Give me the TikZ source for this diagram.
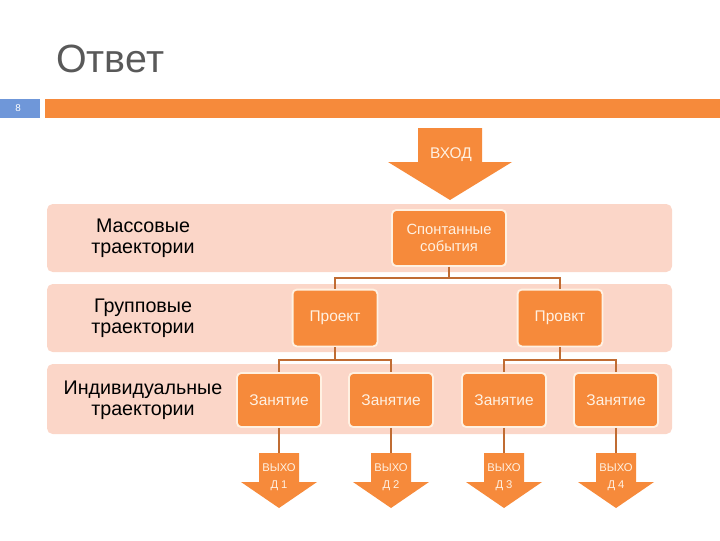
\documentclass[tikz,border=0pt]{standalone}
\usepackage{fontspec}
\setmainfont{Liberation Sans}
\definecolor{boxorange}{HTML}{F68A3B}
\definecolor{bandpink}{HTML}{FBD6C8}
\definecolor{boxrim}{HTML}{FFF1E2}
\definecolor{linebrown}{HTML}{C06C33}
\definecolor{slideblue}{HTML}{6F97D9}
\definecolor{titlegray}{HTML}{595959}
\begin{document}
\begin{tikzpicture}[x=0.025cm, y=-0.025cm]
  \tikzstyle{band}=[fill=bandpink, rounded corners=4pt]
  \tikzstyle{rowlbl}=[align=center, font=\fontsize{14}{15}\selectfont, text=black]
  \tikzstyle{box}=[fill=boxorange, draw=boxrim, line width=1.3pt, rounded corners=3pt,
    text=boxrim, align=center, font=\fontsize{11}{12}\selectfont]
  \tikzstyle{conn}=[draw=linebrown, line width=1.4pt]
  \tikzstyle{arrtext}=[text=boxrim, align=center, inner sep=0pt, font=\fontsize{8}{12.5}\selectfont]
  \useasboundingbox (0,0) rectangle (720,540);
  % header
  \node[anchor=base west, inner sep=0pt, text=titlegray, font=\fontsize{28}{30}\selectfont] (title) at (56,72) {Ответ};
  \fill[slideblue] (0,99) rectangle (40,118);
  \fill[boxorange] (45,99) rectangle (720,118);
  \node[text=white, font=\fontsize{7}{8}\selectfont] (pagenum) at (18,108.5) {8};
  % rows
  \fill[band] (47,204) rectangle (672,272);
  \fill[band] (47,284) rectangle (672,352);
  \fill[band] (47,364) rectangle (672,434);
  \node[rowlbl] (mass)  at (143,238) {Массовые\\траектории};
  \node[rowlbl] (group) at (143,318) {Групповые\\траектории};
  \node[rowlbl] (indiv) at (143,400) {Индивидуальные\\траектории};
  % input arrow
  \fill[boxorange] (418,128) -- (482,128) -- (482,162) -- (512,162) -- (450,200)
    -- (388,162) -- (418,162) -- cycle;
  \node[text=boxrim, font=\fontsize{11}{12}\selectfont] (input) at (451,155) {ВХОД};
  % boxes
  \node[box, minimum width=2.85cm, minimum height=1.4cm, font=\fontsize{10.5}{12}\selectfont] (spont) at (449,238) {Спонтанные\\события};
  \node[box, minimum width=2.12cm, minimum height=1.42cm] (proj1) at (335,318) {Проект};
  \node[box, minimum width=2.12cm, minimum height=1.42cm] (proj2) at (560,318) {Провкт};
  \foreach \i/\x in {1/279, 2/391, 3/504, 4/616} {
    \node[box, minimum width=2.1cm, minimum height=1.35cm] (les\i) at (\x,400) {Занятие};
    \fill[boxorange] (\x-20,453) -- (\x+20,453) -- (\x+20,482) -- (\x+38,482) -- (\x,508)
      -- (\x-38,482) -- (\x-20,482) -- cycle;
    \coordinate (out\i) at (\x,453);
    \node[arrtext] (outlbl\i) at (\x,477) {ВЫХО\\Д \i};
    \draw[conn] (les\i.south) -- (out\i);
  }
  \draw[conn] (spont.south) -- ++(0,11) -| (proj1.north);
  \draw[conn] (spont.south) -- ++(0,11) -| (proj2.north);
  \draw[conn] (proj1.south) -- ++(0,13) -| (les1.north);
  \draw[conn] (proj1.south) -- ++(0,13) -| (les2.north);
  \draw[conn] (proj2.south) -- ++(0,13) -| (les3.north);
  \draw[conn] (proj2.south) -- ++(0,13) -| (les4.north);
\end{tikzpicture}
\end{document}
